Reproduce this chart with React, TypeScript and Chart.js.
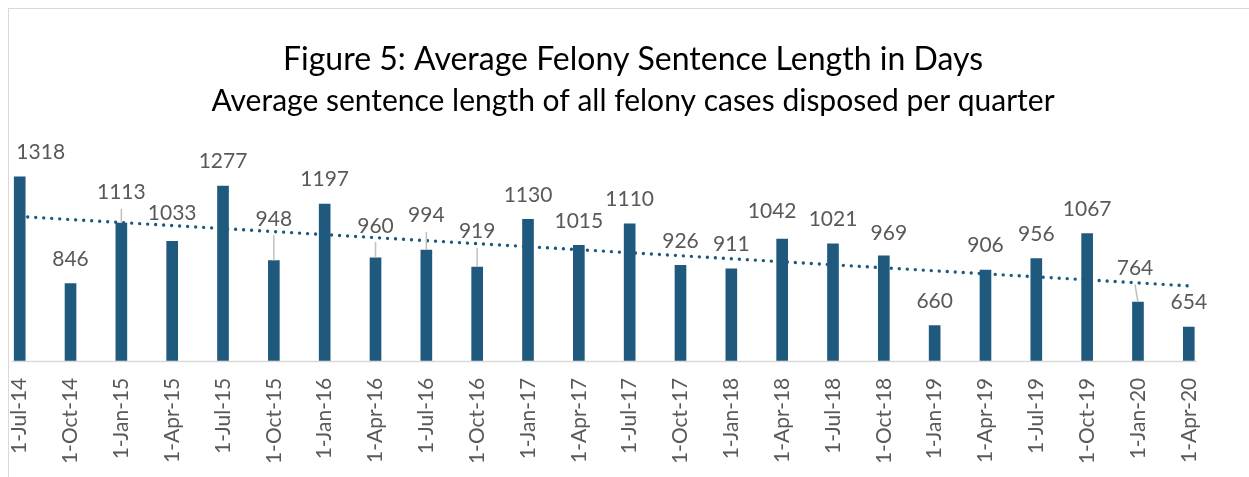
import React, { useEffect, useRef } from 'react';
import { Chart, registerables } from 'chart.js';

Chart.register(...registerables);

const categories = [
  '1-Jul-14', '1-Oct-14', '1-Jan-15', '1-Apr-15', '1-Jul-15', '1-Oct-15',
  '1-Jan-16', '1-Apr-16', '1-Jul-16', '1-Oct-16', '1-Jan-17', '1-Apr-17',
  '1-Jul-17', '1-Oct-17', '1-Jan-18', '1-Apr-18', '1-Jul-18', '1-Oct-18',
  '1-Jan-19', '1-Apr-19', '1-Jul-19', '1-Oct-19', '1-Jan-20', '1-Apr-20',
];

const sentenceDays = [
  1318, 846, 1113, 1033, 1277, 948, 1197, 960, 994, 919, 1130, 1015,
  1110, 926, 911, 1042, 1021, 969, 660, 906, 956, 1067, 764, 654,
];

const titleText = 'Figure 5: Average Felony Sentence Length in Days';
const subtitleText = 'Average sentence length of all felony cases disposed per quarter';

// Styling only: small nudges of some data labels (as moved in the original)
const labelNudgeX = [21, 0, 0, 0, 0, 0, 0, 0, 0, 0, 0, 0, 0, 0, 0, -10, 0, 5, 0, 0, 0, 0, -3, 0];
const labelLift = [0, 0, 6, 4, 0, 17, 0, 7.5, 10, 11, 0, 0, 0, 0, 0, 4, 0, -2, 0, 0, 0, 0, 9.5, 0];

const BAR_COLOR = '#1F5A7E';
const TEXT_GRAY = '#595959';
const FONT = 'Lato';

// Linear (least squares) trendline, like Excel's linear trendline
function linearTrend(ys: number[]): number[] {
  const n = ys.length;
  const xm = (n - 1) / 2;
  const ym = ys.reduce((a, b) => a + b, 0) / n;
  let sxy = 0;
  let sxx = 0;
  ys.forEach((y, i) => {
    sxy += (i - xm) * (y - ym);
    sxx += (i - xm) * (i - xm);
  });
  const slope = sxy / sxx;
  return ys.map((_, i) => ym + slope * (i - xm));
}

const headingPlugin = {
  id: 'headings',
  afterDraw(chart: any) {
    const { ctx } = chart;
    ctx.save();
    ctx.fillStyle = '#000000';
    ctx.textAlign = 'center';
    ctx.textBaseline = 'middle';
    ctx.font = `32px ${FONT}`;
    ctx.fillText(titleText, 633, 60);
    ctx.font = `30px ${FONT}`;
    ctx.fillText(subtitleText, 633, 101.5);
    ctx.restore();
  },
};

const baselinePlugin = {
  id: 'baseline',
  beforeDatasetsDraw(chart: any) {
    const { ctx, chartArea } = chart;
    ctx.save();
    ctx.strokeStyle = '#d9d9d9';
    ctx.lineWidth = 1.5;
    ctx.beginPath();
    ctx.moveTo(chartArea.left - 8, chartArea.bottom + 0.9);
    ctx.lineTo(chartArea.right + 8, chartArea.bottom + 0.9);
    ctx.stroke();
    ctx.restore();
  },
};

const labelPlugin = {
  id: 'barLabels',
  afterDatasetsDraw(chart: any) {
    const { ctx } = chart;
    const meta = chart.getDatasetMeta(0);
    ctx.save();
    meta.data.forEach((el: any, i: number) => {
      const lx = el.x + labelNudgeX[i];
      const center = el.y - 25.3 - labelLift[i];
      if (labelLift[i] >= 6) {
        ctx.strokeStyle = '#bfbfbf';
        ctx.lineWidth = 1.5;
        ctx.beginPath();
        ctx.moveTo(lx, center + 17);
        ctx.lineTo(el.x, el.y);
        ctx.stroke();
      }
      ctx.fillStyle = TEXT_GRAY;
      ctx.font = `21px ${FONT}`;
      ctx.textAlign = 'center';
      ctx.textBaseline = 'alphabetic';
      ctx.fillText(String(sentenceDays[i]), lx, center + 7.6);
    });
    ctx.restore();
  },
};

export default function App() {
  const ref = useRef<HTMLCanvasElement | null>(null);

  useEffect(() => {
    if (!ref.current) return;
    const trend = linearTrend(sentenceDays);
    const chart = new Chart(ref.current, {
      type: 'bar',
      data: {
        labels: categories,
        datasets: [
          {
            type: 'bar',
            label: 'Average sentence length',
            data: sentenceDays,
            backgroundColor: BAR_COLOR,
            borderWidth: 0,
            barThickness: 11,
            order: 1,
            clip: { left: 15, right: 15, top: false, bottom: 0 },
          } as any,
          {
            type: 'line',
            label: 'Linear trend',
            data: trend,
            borderColor: BAR_COLOR,
            borderWidth: 3.4,
            borderDash: [0.01, 8],
            borderCapStyle: 'round',
            pointRadius: 0,
            tension: 0,
            order: 2,
            clip: false,
          } as any,
        ],
      },
      options: {
        responsive: false,
        animation: false,
        layout: { padding: { left: 19.7, right: 1249 - 1188.8, top: 158.2, bottom: 0 } },
        plugins: {
          legend: { display: false },
          tooltip: { enabled: false },
          title: { display: false },
        },
        scales: {
          x: {
            offset: false,
            grid: { display: false, drawTicks: false },
            border: { display: false },
            ticks: {
              minRotation: 90,
              maxRotation: 90,
              autoSkip: false,
              padding: 17,
              color: TEXT_GRAY,
              font: { family: FONT, size: 21 },
            },
            afterFit: (s: any) => {
              s.height = 116.3;
            },
          },
          y: { display: false, beginAtZero: false, min: 505, max: 1400 },
        },
      } as any,
      plugins: [headingPlugin, baselinePlugin, labelPlugin],
    });
    return () => chart.destroy();
  }, []);

  return (
    <>
      <div
        style={{
          position: 'fixed',
          left: 8,
          top: 8,
          width: 1400,
          height: 600,
          borderLeft: '1.5px solid #d9d9d9',
          borderTop: '1.5px solid #d9d9d9',
        }}
      />
      <canvas
        ref={ref}
        width={1249}
        height={477}
        style={{ position: 'fixed', left: 0, top: 0, width: 1249, height: 477 }}
      />
    </>
  );
}
